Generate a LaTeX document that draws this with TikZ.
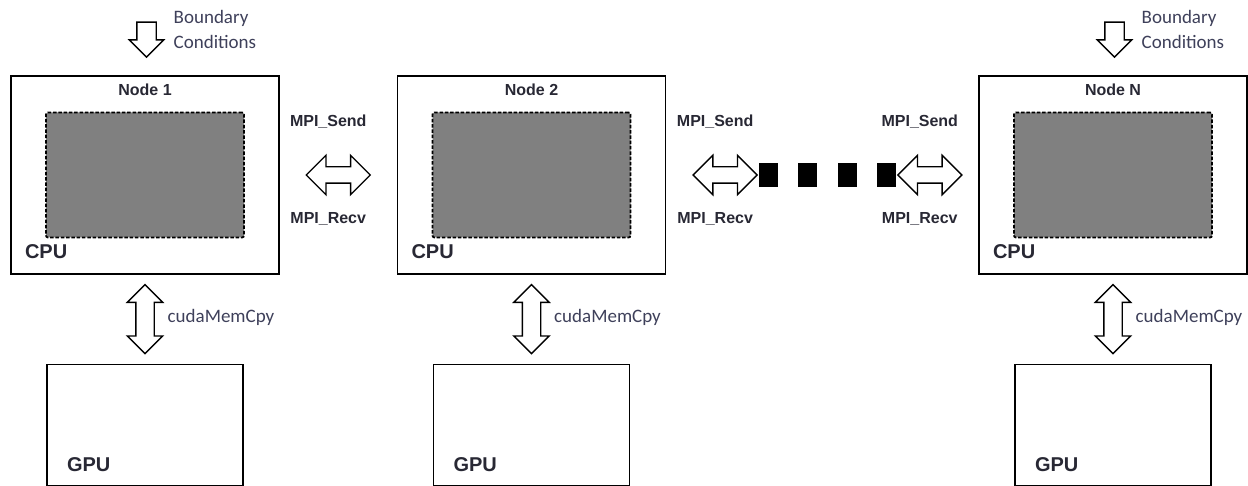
\documentclass[tikz,border=0pt]{standalone}
\usepackage{fontspec}
\setmainfont{Liberation Sans}
\newfontfamily\calfont{Carlito}
\usetikzlibrary{shapes.arrows,positioning,calc}
\definecolor{labelgray}{RGB}{40,40,52}
\definecolor{notegray}{RGB}{62,64,90}
\def\gpusep{89pt}

\begin{document}
\begin{tikzpicture}[x=1pt,y=-1pt,line width=1.4pt,font=\fontsize{16}{18}\selectfont]
    \tikzstyle{cpu box}=[draw,minimum width=268pt,minimum height=198pt,inner sep=0pt]
    \tikzstyle{work area}=[draw,fill=black!50,rounded corners=2pt,line width=1.8pt,dash pattern=on 3.5pt off 1.8pt,minimum width=198pt,minimum height=125pt,inner sep=0pt]
    \tikzstyle{gpu box}=[draw,minimum width=196pt,minimum height=121pt,inner sep=0pt]
    \tikzstyle{block arrow}=[draw,fill=white,line width=1.4pt]
    \tikzstyle{link arrow}=[block arrow,double arrow,inner sep=7.5pt,minimum height=64pt,minimum width=38pt,double arrow head extend=11.5pt]
    \tikzstyle{copy arrow}=[block arrow,double arrow,shape border rotate=90,inner sep=8.5pt,minimum height=69pt,minimum width=34pt,double arrow head extend=8.5pt]
    \tikzstyle{bc arrow}=[block arrow,single arrow,shape border rotate=270,inner sep=9pt,minimum height=35pt,minimum width=33pt,single arrow head extend=7.5pt]
    \tikzstyle{dot}=[fill=black,minimum width=19pt,minimum height=24pt,inner sep=0pt]
    \tikzstyle{annot}=[font=\calfont\fontsize{19}{25}\selectfont,text=notegray,inner sep=0pt]
    \tikzstyle{title}=[font=\bfseries\fontsize{16}{18}\selectfont,text=labelgray,inner sep=0pt]
    \tikzstyle{unit}=[font=\bfseries\fontsize{20}{22}\selectfont,text=labelgray,inner sep=0pt,anchor=base west]

    \useasboundingbox (0,0) rectangle (1248,486);

    % Draw the compute nodes with their CPU and GPU
    \foreach \name / \x in {1/145, 2/531.5, N/1113}
    {
        \node[cpu box] (C-\name) at (\x,175) {};
        \node[work area] (W-\name) at (C-\name.center) {};
        \node[title, below=8pt of C-\name.north] {Node \name};
        \node[unit] at ($(C-\name.south west)+(14,-16)$) {CPU};
        \node[gpu box, below=\gpusep of C-\name] (G-\name) {};
        \node[unit] at ($(G-\name.north west)+(20,108)$) {GPU};
        % host <-> device copy
        \node[copy arrow] (M-\name) at ($(C-\name.south)!0.5!(G-\name.north)$) {};
        \node[annot, anchor=west] at ($(M-\name.center)+(22,-2)$) {cudaMemCpy};
    }

    % Boundary conditions on the outer nodes
    \foreach \name in {1,N}
    {
        \node[bc arrow] (B-\name) at ($(C-\name.north)+(1.5,-40.5)$) {};
        \node[annot, anchor=west, align=left] at ($(B-\name.center)+(26.5,-5)$) {Boundary\\Conditions};
    }

    % Draw the gap of skipped nodes
    \node[link arrow, right=26pt of C-2] (L-2) {};
    \node[dot, right=0pt of L-2] (D-1) {};
    \foreach \i [count=\j from 1] in {2,3,4}
        \node[dot, right=19pt of D-\j] (D-\i) {};
    \node[link arrow, right=0pt of D-4] (L-3) {};
    \node[link arrow] (L-1) at ($(C-1.east)!0.5!(C-2.west)$) {};

    % Annotate the MPI links
    \foreach \link in {1,2,3}
    {
        \node[title] at ($(L-\link.center)+(-10,-53)$) {MPI\_Send};
        \node[title] at ($(L-\link.center)+(-10,44)$) {MPI\_Recv};
    }
\end{tikzpicture}
\end{document}
